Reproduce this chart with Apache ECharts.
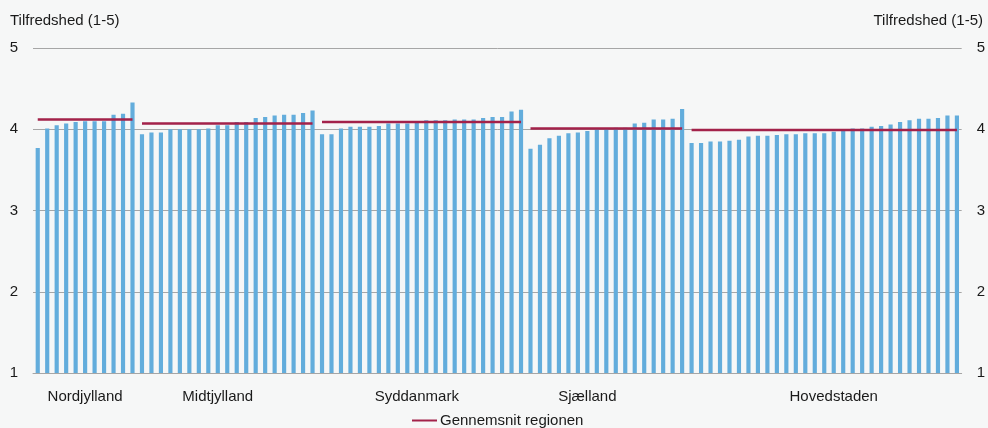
<!DOCTYPE html>
<html>
<head>
<meta charset="utf-8">
<script src="https://cdn.jsdelivr.net/npm/echarts@6/dist/echarts.min.js"></script>
<style>
  html, body { margin: 0; padding: 0; background: #F6F7F7; }
  #chart { width: 988px; height: 428px; }
</style>
</head>
<body>
<div id="chart"></div>
<script>
// Satisfaction score (1-5) per municipality, grouped by region, sorted ascending
const regions = ['Nordjylland', 'Midtjylland', 'Syddanmark', 'Sjælland', 'Hovedstaden'];

const nordjylland = [3.77, 4.01, 4.05, 4.07, 4.09, 4.10, 4.10, 4.10, 4.18, 4.19, 4.33];
const midtjylland = [3.94, 3.96, 3.96, 4.00, 4.00, 4.00, 4.00, 4.01, 4.05, 4.05,
                     4.09, 4.09, 4.14, 4.15, 4.17, 4.18, 4.18, 4.20, 4.23];
const syddanmark  = [3.94, 3.94, 4.01, 4.03, 4.03, 4.03, 4.04, 4.07, 4.07, 4.07, 4.08,
                     4.11, 4.11, 4.11, 4.12, 4.12, 4.12, 4.14, 4.15, 4.15, 4.22, 4.24];
const sjaelland   = [3.76, 3.81, 3.89, 3.92, 3.95, 3.96, 3.98, 4.00, 4.01, 4.02, 4.02,
                     4.07, 4.08, 4.12, 4.12, 4.13, 4.25];
const hovedstaden = [3.83, 3.83, 3.85, 3.85, 3.86, 3.87, 3.91, 3.92, 3.92, 3.93, 3.94,
                     3.94, 3.95, 3.95, 3.95, 3.97, 3.98, 4.01, 4.01, 4.03, 4.04, 4.06,
                     4.09, 4.11, 4.13, 4.13, 4.14, 4.17, 4.17];

// Regional average
const regionAverages = [4.12, 4.07, 4.09, 4.01, 3.99];

// Municipality (category index) under which each region name is written
const regionLabelAt = [5, 19, 40, 58, 84];

const yTicks = [1, 2, 3, 4, 5];
const axisTitle = 'Tilfredshed (1-5)';
const avgName = 'Gennemsnit regionen';

const groups = [nordjylland, midtjylland, syddanmark, sjaelland, hovedstaden];

// Flatten into one category axis
const categories = [];
const values = [];
groups.forEach((g, r) => {
  g.forEach(v => { categories.push(regions[r]); values.push(v); });
});

// One average line per region, null outside its own municipalities
const avgSeries = [];
let offset = 0;
groups.forEach((g, r) => {
  const d = categories.map(() => null);
  for (let i = 0; i < g.length; i++) d[offset + i] = regionAverages[r];
  offset += g.length;
  avgSeries.push({
    name: avgName,
    type: 'line',
    data: d,
    symbol: 'none',
    connectNulls: false,
    lineStyle: { color: '#A3224A', width: 2.5 },
    itemStyle: { color: '#A3224A' },
    z: 5,
    silent: true
  });
});

const font = 'Liberation Sans, Arial, Helvetica, sans-serif';
const textColor = '#1A1A1A';
const gridColor = '#A6A6A6';

const chart = echarts.init(document.getElementById('chart'), null, { renderer: 'canvas' });
chart.setOption({
  backgroundColor: '#F6F7F7',
  animation: false,
  textStyle: { fontFamily: font },
  title: [
    { text: axisTitle, left: 5, top: 8,
      textStyle: { fontSize: 15, fontWeight: 'normal', color: textColor, fontFamily: font } },
    { text: axisTitle, right: 0, top: 8,
      textStyle: { fontSize: 15, fontWeight: 'normal', color: textColor, fontFamily: font } }
  ],
  grid: { left: 33, right: 24, top: 48, bottom: 55, containLabel: false },
  legend: {
    top: 408,
    left: 407,
    itemWidth: 25,
    itemHeight: 2,
    itemGap: 10,
    data: [{ name: avgName, icon: 'rect' }],
    textStyle: { fontSize: 15, color: textColor, fontFamily: font, padding: [0, 0, 0, -2] }
  },
  xAxis: {
    type: 'category',
    data: categories,
    boundaryGap: true,
    axisLine: { lineStyle: { color: gridColor, width: 1 } },
    axisTick: { show: false },
    axisLabel: {
      interval: (idx) => regionLabelAt.indexOf(idx) >= 0,
      margin: 16,
      fontSize: 15,
      color: textColor,
      fontFamily: font
    }
  },
  yAxis: [
    {
      type: 'value', min: yTicks[0], max: yTicks[yTicks.length - 1], interval: 1,
      position: 'left',
      axisLine: { show: false },
      axisTick: { show: false },
      splitLine: { show: true, lineStyle: { color: gridColor, width: 1 } },
      axisLabel: { margin: 15, fontSize: 15, color: textColor, fontFamily: font }
    },
    {
      type: 'value', min: yTicks[0], max: yTicks[yTicks.length - 1], interval: 1,
      position: 'right',
      axisLine: { show: false },
      axisTick: { show: false },
      splitLine: { show: false },
      axisLabel: { margin: 15, fontSize: 15, color: textColor, fontFamily: font }
    }
  ],
  series: [
    {
      name: 'Kommuner',
      type: 'bar',
      data: values,
      barWidth: '44%',
      itemStyle: { color: '#63ADDC' },
      silent: true
    },
    ...avgSeries
  ]
});
</script>
</body>
</html>
